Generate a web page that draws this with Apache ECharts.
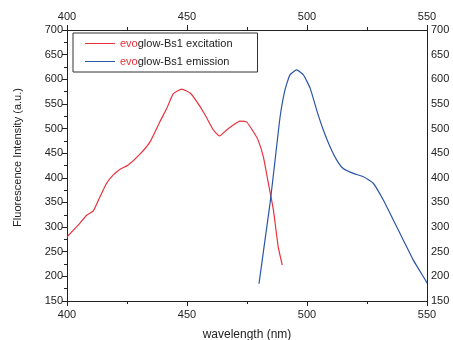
<!DOCTYPE html>
<html><head><meta charset="utf-8">
<script src="https://cdn.jsdelivr.net/npm/echarts@6/dist/echarts.min.js"></script>
<style>html,body{margin:0;padding:0;background:#fff}#c{width:453px;height:340px}</style>
</head><body><div id="c"></div>
<script>
const excWavelength = [400,405.4,408.2,411,413.8,416.5,419.3,422,425.5,430.4,434.6,438.8,441.5,444.3,447.8,451.3,454,457.5,461,463.5,466.5,469.3,472,474.9,477.6,479.5,481.8,483.9,486,488,489.7];
const excIntensity = [280,308,324,333,362,389,406,417,426,448,473,515,540,571,580,572,555,528,497,485,497,507,515,513,494,478,443,389,335,260,223];
const emWavelength = [480,482.5,484.6,486.7,488.8,490.8,492.9,495.7,498.5,501.3,504,506.8,509.6,512.4,515.1,519.3,523.5,527.6,531.8,536,540.1,544.3,549.5,550];
const emIntensity = [185,274,348,436,524,578,609,619,609,582,538,497,463,436,419,409,402,389,355,314,274,233,191,186];
const xTicks = {min:400, max:550, interval:50};
const yTicks = {min:150, max:700, interval:50};
const seriesNames = ['evoglow-Bs1 excitation','evoglow-Bs1 emission'];

const pair = (xs, ys) => xs.map((x, i) => [x, ys[i]]);
const font = 'Liberation Sans';
const axisCommon = {
  type: 'value',
  axisLine: {show: true, onZero: false, lineStyle: {color: '#222', width: 1}},
  axisTick: {show: true, inside: false, length: 5, lineStyle: {color: '#222'}},
  minorTick: {show: true, splitNumber: 2, length: 3, lineStyle: {color: '#222'}},
  splitLine: {show: false},
  axisLabel: {color: '#222', fontFamily: font, fontSize: 11, margin: 4}
};
const xa = (pos) => Object.assign({}, axisCommon, {position: pos, min: xTicks.min, max: xTicks.max, interval: xTicks.interval,
  axisLabel: Object.assign({}, axisCommon.axisLabel, {margin: 8})});
const ya = (pos, ticks) => Object.assign({}, axisCommon, {position: pos, min: yTicks.min, max: yTicks.max, interval: yTicks.interval,
  axisTick: Object.assign({}, axisCommon.axisTick, {show: ticks}), minorTick: Object.assign({}, axisCommon.minorTick, {show: ticks})});

const chart = echarts.init(document.getElementById('c'), null, {renderer: 'canvas'});
const x0 = xa('bottom');
x0.name = 'wavelength (nm)'; x0.nameLocation = 'middle'; x0.nameGap = 28;
x0.nameTextStyle = {color: '#222', fontFamily: font, fontSize: 12};
const y0 = ya('left', true);
y0.name = 'Fluorescence Intensity (a.u.)'; y0.nameLocation = 'middle'; y0.nameGap = 44;
y0.nameTextStyle = {color: '#222', fontFamily: font, fontSize: 11, padding: [0, 0, 0, 16]};
const y1 = ya('right', false);
chart.setOption({
  animation: false,
  backgroundColor: '#fff',
  grid: {left: 67, right: 26, top: 30, bottom: 39, containLabel: false, outerBoundsMode: 'none'},
  xAxis: [x0, xa('top')],
  yAxis: [y0, y1],
  legend: {
    left: 73, top: 33, orient: 'vertical',
    borderColor: '#333', borderWidth: 1, padding: [5, 25, 5, 12],
    itemWidth: 30, itemHeight: 8, itemGap: 7,
    icon: 'path://M0,4L30,4L30,5L0,5Z',
    data: seriesNames,
    formatter: n => '{r|evo}' + n.slice(3),
    textStyle: {color: '#222', fontFamily: font, fontSize: 11,
      rich: {r: {color: '#e8323c', fontFamily: font, fontSize: 11}}}
  },
  series: [
    {name: seriesNames[0], type: 'line', data: pair(excWavelength, excIntensity), showSymbol: false, smooth: 0.15,
     color: '#e8323c', lineStyle: {width: 1.2, color: '#e8323c'}},
    {name: seriesNames[1], type: 'line', data: pair(emWavelength, emIntensity), showSymbol: false, smooth: 0.15,
     color: '#2a55a8', lineStyle: {width: 1.2, color: '#2a55a8'}}
  ]
});
</script></body></html>
